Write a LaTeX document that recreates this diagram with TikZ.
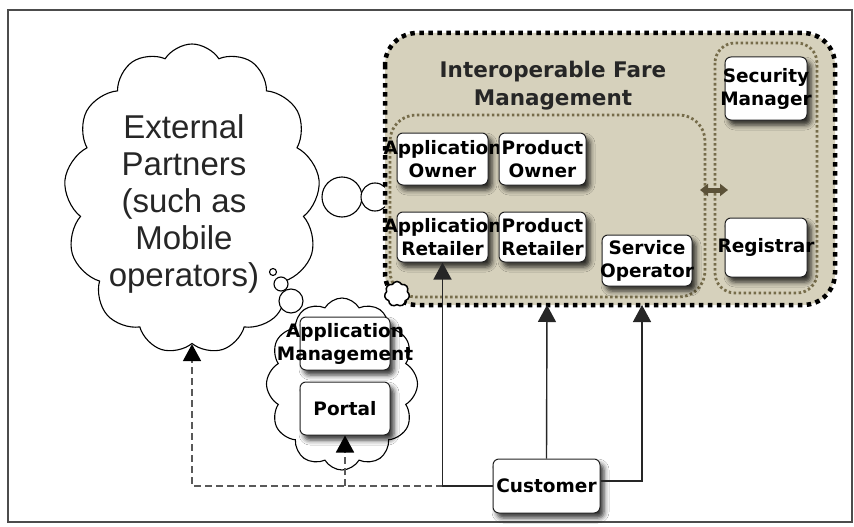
\documentclass[tikz,border=0pt]{standalone}
\usepackage{fontspec}
\setmainfont{DejaVu Sans}
\newfontfamily\partnerfont{Liberation Sans}
\usetikzlibrary{shapes.symbols,arrows.meta,shadows.blur,calc}

\definecolor{farefill}{RGB}{214,209,188}
\definecolor{olivedot}{RGB}{118,108,74}
\definecolor{linkbrown}{RGB}{92,82,56}
\definecolor{inkgray}{RGB}{35,35,35}

% zero-width centred line, so long words may run over a box edge
\newcommand\wideline[1]{\makebox[0pt][c]{#1}}

\tikzset{
  rolebox/.style={draw=inkgray, line width=1pt, fill=white, rounded corners=6pt,
    inner sep=0pt, align=center, font=\fontsize{18.5}{23}\selectfont\bfseries,
    text=black,
    blur shadow={shadow xshift=4pt, shadow yshift=-5pt, shadow blur radius=5pt,
      shadow opacity=80}},
  thought/.style={cloud, cloud ignores aspect, draw=black, line width=1.1pt,
    fill=white, inner sep=0pt},
  bubble/.style={circle, draw=black, line width=1.1pt, fill=white, inner sep=0pt},
  flow/.style={line width=1.4pt, draw=black!85,
    -{Triangle[width=18pt,length=17pt]}},
  optflow/.style={line width=1.8pt, draw=black!65, dash pattern=on 7pt off 4pt,
    -{Triangle[width=18pt,length=17pt,color=black]}},
  bigdots/.style={draw=black, line width=4.5pt, dash pattern=on 4.5pt off 4.5pt},
  smalldots/.style={draw=olivedot, line width=2.8pt, dash pattern=on 2.5pt off 2.5pt},
}

\begin{document}
\begin{tikzpicture}[x=1pt,y=-1pt]
\useasboundingbox (0,0) rectangle (854,527);
\fill[white] (0,0) rectangle (854,527);
\draw[line width=1.6pt, draw=black!70] (8,10) rectangle (852,522);

% external partners cloud and its thought bubbles
\node[thought, cloud puffs=13, cloud puff arc=115, minimum width=256pt,
  minimum height=310pt] (ext) at (192,199) {};
\node[font=\partnerfont\fontsize{33}{37}\selectfont, align=center, text=black!85]
  (exttext) at (184,204) {External\\Partners\\(such as\\Mobile\\operators)};
\node[bubble, minimum size=40pt] (b1) at (342,197) {};
\node[bubble, minimum size=28pt] (b2) at (375,197) {};

% interoperable fare management area
\draw[bigdots, fill=farefill, rounded corners=32pt] (385,33) rectangle (835,305);
\coordinate (ifmsouth) at (547,305);
\coordinate (ifmentry) at (642,305);
\draw[smalldots, rounded corners=26pt] (390,115) rectangle (705,297);
\draw[smalldots, rounded corners=20pt] (715,43) rectangle (817,293);
\node[font=\fontsize{21.5}{28}\selectfont\bfseries, align=center, text=black!85]
  (ifmtitle) at (553,86) {Interoperable Fare\\Management};

\node[rolebox, minimum width=91pt, minimum height=52pt] (appown) at (442.5,159)
  {\wideline{Application}\\\wideline{Owner}};
\node[rolebox, minimum width=87pt, minimum height=52pt] (prodown) at (542.5,159)
  {\wideline{Product}\\\wideline{Owner}};
\node[rolebox, minimum width=91pt, minimum height=50pt] (appret) at (442.5,237)
  {\wideline{Application}\\\wideline{Retailer}};
\node[rolebox, minimum width=87pt, minimum height=50pt] (prodret) at (542.5,237)
  {\wideline{Product}\\\wideline{Retailer}};
\node[rolebox, minimum width=90pt, minimum height=51pt] (svcop) at (647,260.5)
  {\wideline{Service}\\\wideline{Operator}};
\node[rolebox, minimum width=82pt, minimum height=63pt] (secman) at (766,88.5)
  {\wideline{Security}\\\wideline{Manager}};
\node[rolebox, minimum width=82pt, minimum height=59pt] (registrar) at (766,247.5)
  {\wideline{Registrar}};

\coordinate (linkL) at (700,190);
\coordinate (linkR) at (728,190);
\draw[linkbrown, line width=5pt,
  {Triangle[width=12pt,length=8pt]}-{Triangle[width=12pt,length=8pt]}]
  (linkL) -- (linkR);

% application management cloud
\node[thought, cloud puffs=12, cloud puff arc=120, minimum width=151pt,
  minimum height=172pt] (appcloud) at (342,384) {};
\node[bubble, minimum size=7pt] (s1) at (273,272) {};
\node[bubble, minimum size=14pt] (s2) at (281,284) {};
\node[bubble, minimum size=24pt] (s3) at (291,301) {};
\node[thought, cloud puffs=7, cloud puff arc=130, minimum width=25pt,
  minimum height=25pt, line width=1.5pt] (tiny) at (397,294) {};
\node[rolebox, minimum width=90pt, minimum height=53pt] (appmgmt) at (345,343.5)
  {\wideline{Application}\\\wideline{Management}};
\node[rolebox, minimum width=90pt, minimum height=53pt] (portal) at (345,408.5)
  {Portal};

% customer and its connections
\node[rolebox, minimum width=107pt, minimum height=54pt] (cust) at (546.5,486)
  {Customer};

\draw[optflow] (appret.south |- cust.west) -- (ext.south |- cust.west) -- (ext.south);
\draw[optflow] (portal.south |- cust.west) -- (portal.south);
\draw[flow] (cust.west) -- (appret.south |- cust.west) -- (appret.south);
\draw[flow] (cust.north) -- (ifmsouth);
\draw[flow] ([yshift=5pt]cust.east) -| (ifmentry);
\end{tikzpicture}
\end{document}
